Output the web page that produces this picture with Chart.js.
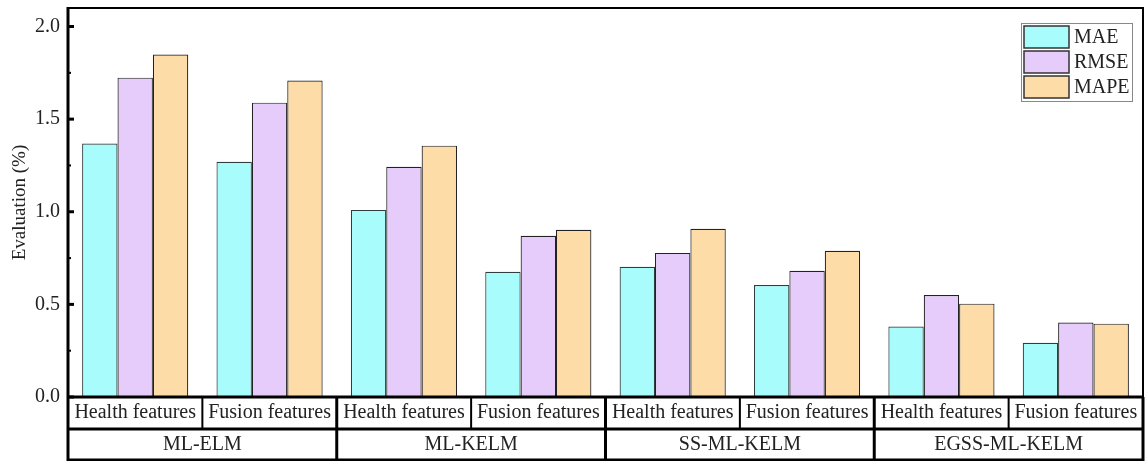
<!DOCTYPE html>
<html>
<head>
<meta charset="utf-8">
<script src="https://cdn.jsdelivr.net/npm/chart.js@4.4.0/dist/chart.umd.min.js"></script>
<style>
  html, body { margin: 0; padding: 0; background: #fff; }
  #wrap { width: 1145px; height: 461px; }
</style>
</head>
<body>
<div id="wrap"><canvas id="evalChart"></canvas></div>
<script>
// data
var featureLabels = ['Health features', 'Fusion features', 'Health features', 'Fusion features',
                     'Health features', 'Fusion features', 'Health features', 'Fusion features'];
var modelGroups = ['ML-ELM', 'ML-KELM', 'SS-ML-KELM', 'EGSS-ML-KELM'];
var maeValues  = [1.368, 1.270, 1.010, 0.676, 0.703, 0.605, 0.380, 0.293];
var rmseValues = [1.724, 1.589, 1.243, 0.870, 0.778, 0.681, 0.551, 0.402];
var mapeValues = [1.849, 1.708, 1.357, 0.903, 0.908, 0.789, 0.504, 0.396];
var yTicks = [0, 0.5, 1.0, 1.5, 2.0];

var serif = "'Liberation Serif', 'Times New Roman', serif";

// frame, inward y ticks, the two-row label table and the inside legend
var decorations = {
  id: 'decorations',
  afterDraw: function(chart) {
    var ctx = chart.ctx;
    var area = chart.chartArea;
    var y = chart.scales.y;
    var x = chart.scales.x;
    var x2 = chart.scales.x2;
    ctx.save();
    ctx.strokeStyle = '#000';

    // plot frame
    ctx.lineWidth = 2;
    ctx.beginPath();
    ctx.moveTo(area.left, area.top);
    ctx.lineTo(area.right, area.top);
    ctx.lineTo(area.right, area.bottom);
    ctx.stroke();
    ctx.lineWidth = 3;
    ctx.beginPath();
    ctx.moveTo(area.left, area.top - 1);
    ctx.lineTo(area.left, area.bottom);
    ctx.stroke();

    // y ticks pointing inward (major + minor)
    for (var v = 0; v <= 2.0001; v += 0.25) {
      var py = y.getPixelForValue(v);
      var major = Math.abs(v * 2 - Math.round(v * 2)) < 1e-6;
      ctx.lineWidth = major ? 3 : 2;
      ctx.beginPath();
      ctx.moveTo(area.left, py);
      ctx.lineTo(area.left + (major ? 6 : 3), py);
      ctx.stroke();
    }

    // label table
    var n = featureLabels.length;
    var step = (area.right - area.left) / n;
    var r1t = area.bottom, r1b = x.bottom, r2b = x2.bottom;
    ctx.lineWidth = 3;
    ctx.beginPath();
    ctx.moveTo(area.left, r1t); ctx.lineTo(area.right, r1t);
    ctx.moveTo(area.left, r1b); ctx.lineTo(area.right, r1b);
    ctx.moveTo(area.left, r2b - 1); ctx.lineTo(area.right, r2b - 1);
    ctx.stroke();
    for (var i = 0; i <= n; i++) {
      var px = area.left + i * step;
      var groupEdge = (i % 2 === 0);
      ctx.lineWidth = groupEdge ? 3 : 2;
      ctx.beginPath();
      ctx.moveTo(px, r1t);
      ctx.lineTo(px, groupEdge ? r2b : r1b);
      ctx.stroke();
    }

    // legend
    var lx = 1021, ly = 23, lw = 111, lh = 78;
    ctx.lineWidth = 1;
    ctx.strokeStyle = '#888';
    ctx.strokeRect(lx + 0.5, ly + 0.5, lw, lh);
    ctx.font = '20px ' + serif;
    ctx.textBaseline = 'middle';
    chart.data.datasets.forEach(function(ds, k) {
      var sy = ly + 3 + k * 25;
      ctx.fillStyle = ds.backgroundColor;
      ctx.fillRect(lx + 3, sy, 45, 22);
      ctx.strokeStyle = '#333';
      ctx.lineWidth = 1.5;
      ctx.strokeRect(lx + 3, sy, 45, 22);
      ctx.fillStyle = '#222';
      ctx.fillText(ds.label, lx + 53, sy + 12);
    });
    ctx.restore();
  }
};

new Chart(document.getElementById('evalChart'), {
  type: 'bar',
  data: {
    labels: featureLabels,
    datasets: [
      { label: 'MAE',  data: maeValues,  backgroundColor: '#a8fcfc', borderColor: '#2f3f3f', borderWidth: 1.2 },
      { label: 'RMSE', data: rmseValues, backgroundColor: '#e5ccfb', borderColor: '#222', borderWidth: 1.2 },
      { label: 'MAPE', data: mapeValues, backgroundColor: '#fddca8', borderColor: '#222', borderWidth: 1.2 }
    ]
  },
  options: {
    responsive: true,
    maintainAspectRatio: false,
    animation: false,
    datasets: { bar: { categoryPercentage: 0.79, barPercentage: 1.0 } },
    layout: { padding: { top: 8, right: 2, left: 0, bottom: 0 } },
    plugins: {
      legend: { display: false },
      tooltip: { enabled: false }
    },
    scales: {
      y: {
        min: 0,
        max: 2.1,
        grid: { display: false, drawTicks: false },
        border: { display: false },
        ticks: {
          padding: 8,
          color: '#222',
          font: { family: serif, size: 20 },
          callback: function(v) { return v.toFixed(1); }
        },
        afterBuildTicks: function(scale) {
          scale.ticks = yTicks.map(function(v) { return { value: v }; });
        },
        afterFit: function(scale) {
          scale.width = 68;
          scale.paddingTop = 0;
          scale.paddingBottom = 0;
        },
        title: {
          display: true,
          text: 'Evaluation (%)',
          color: '#222',
          font: { family: serif, size: 19 },
          padding: { top: 9, bottom: 0 }
        }
      },
      x: {
        position: 'bottom',
        offset: true,
        grid: { display: false, drawTicks: false },
        border: { display: false },
        ticks: {
          padding: 4,
          maxRotation: 0,
          autoSkip: false,
          color: '#222',
          font: { family: serif, size: 20 }
        },
        afterFit: function(scale) { scale.height = 32; }
      },
      x2: {
        type: 'category',
        labels: modelGroups,
        position: 'bottom',
        offset: true,
        grid: { display: false, drawTicks: false },
        border: { display: false },
        ticks: {
          padding: 4,
          maxRotation: 0,
          autoSkip: false,
          color: '#222',
          font: { family: serif, size: 20 }
        },
        afterFit: function(scale) { scale.height = 32; }
      }
    }
  },
  plugins: [decorations]
});
</script>
</body>
</html>
